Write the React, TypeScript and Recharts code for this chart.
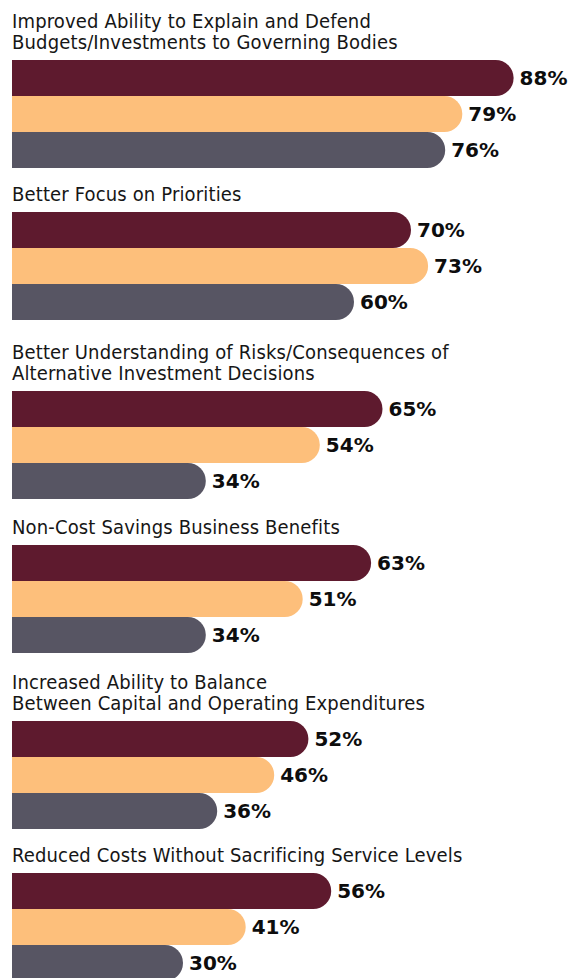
import { BarChart, Bar, XAxis, YAxis, Cell, LabelList } from "recharts";

const categories = [
  "Improved Ability to Explain and Defend\nBudgets/Investments to Governing Bodies",
  "Better Focus on Priorities",
  "Better Understanding of Risks/Consequences of\nAlternative Investment Decisions",
  "Non-Cost Savings Business Benefits",
  "Increased Ability to Balance\nBetween Capital and Operating Expenditures",
  "Reduced Costs Without Sacrificing Service Levels",
];

const maroonValues = [88, 70, 65, 63, 52, 56];
const peachValues = [79, 73, 54, 51, 46, 41];
const grayValues = [76, 60, 34, 34, 36, 30];

const COLORS = ["#5E1A2E", "#FDBF7B", "#575563"];

// top of each bar block, px from the page top
const GROUP_TOP = [60, 212, 391, 545, 721, 873];

const BAR_H = 36;
const LINE_H = 21;
const LEFT = 12;
const PLOT_W = 570;

const TITLE_FONT = '"Liberation Sans Narrow", "DejaVu Sans Condensed", "Liberation Sans", sans-serif';
const VALUE_FONT = '"DejaVu Sans", "Liberation Sans", sans-serif';

function Group({ index }: { index: number }) {
  const title = categories[index];
  const lines = title.split("\n").length;
  const top = GROUP_TOP[index];
  const rows = [maroonValues[index], peachValues[index], grayValues[index]].map((value, i) => ({
    key: `s${i}`,
    value,
  }));

  return (
    <>
      <div
        style={{
          position: "absolute",
          left: LEFT,
          top: top - 28 - LINE_H * (lines - 1),
          fontFamily: TITLE_FONT,
          fontSize: 20,
          lineHeight: `${LINE_H}px`,
          letterSpacing: 0.15,
          color: "#161616",
          whiteSpace: "pre",
        }}
      >
        {title}
      </div>
      <div style={{ position: "absolute", left: 0, top }}>
        <BarChart
          width={LEFT + PLOT_W}
          height={BAR_H * 3}
          data={rows}
          layout="vertical"
          margin={{ top: 0, right: 0, bottom: 0, left: LEFT }}
          barCategoryGap={0}
        >
          <XAxis type="number" domain={[0, 100]} hide />
          <YAxis type="category" dataKey="key" hide />
          <Bar dataKey="value" radius={[0, 18, 18, 0]} isAnimationActive={false}>
            {rows.map((r, i) => (
              <Cell key={r.key} fill={COLORS[i]} />
            ))}
            <LabelList
              dataKey="value"
              position="right"
              offset={6}
              formatter={(v: number) => `${v}%`}
              style={{ fontFamily: VALUE_FONT, fontSize: 20, fontWeight: 700, fill: "#0d0d0d" }}
            />
          </Bar>
        </BarChart>
      </div>
    </>
  );
}

export default function App() {
  return (
    <div
      style={{
        position: "absolute",
        left: 0,
        top: 0,
        width: 575,
        height: 978,
        overflow: "hidden",
        background: "#fff",
      }}
    >
      {categories.map((_, i) => (
        <Group key={i} index={i} />
      ))}
    </div>
  );
}
